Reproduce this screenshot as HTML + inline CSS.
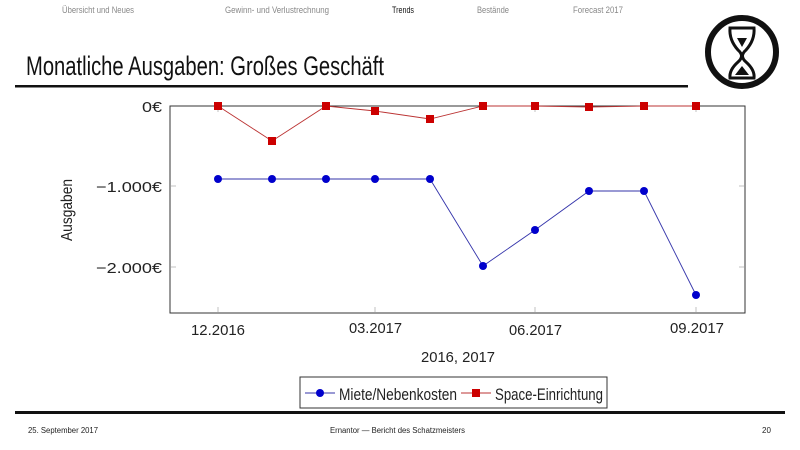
<!DOCTYPE html>
<html><head><meta charset="utf-8"><style>
body{margin:0;background:#fff;}
svg{display:block;font-family:"Liberation Sans",sans-serif;}
</style></head><body>
<svg width="800" height="450" viewBox="0 0 800 450">
<g font-size="9" fill="#888">
<text x="62" y="13" textLength="72" lengthAdjust="spacingAndGlyphs">Übersicht und Neues</text>
<text x="225" y="13" textLength="104" lengthAdjust="spacingAndGlyphs">Gewinn- und Verlustrechnung</text>
<text x="392" y="13" fill="#111" textLength="22" lengthAdjust="spacingAndGlyphs">Trends</text>
<text x="477" y="13" textLength="32" lengthAdjust="spacingAndGlyphs">Bestände</text>
<text x="573" y="13" textLength="50" lengthAdjust="spacingAndGlyphs">Forecast 2017</text>
</g>
<text x="26" y="75" font-size="27" fill="#111" textLength="358" lengthAdjust="spacingAndGlyphs">Monatliche Ausgaben: Großes Geschäft</text>
<rect x="15" y="85" width="673" height="2.5" fill="#111"/>
<circle cx="742" cy="52" r="34" fill="none" stroke="#111" stroke-width="6"/>
<path d="M730 28 H754 Q755 40 746 50 Q739 56 746 62 Q755 70 754 78 H730 Q729 70 738 62 Q745 56 738 50 Q729 40 730 28 Z" fill="none" stroke="#111" stroke-width="3"/>
<path d="M737 38 L747 38 L742 47 Z M735 75 L749 75 L742 66 Z" fill="#111"/>
<!-- plot -->
<rect x="170" y="106" width="575" height="207" fill="none" stroke="#333" stroke-width="1"/>
<g stroke="#999" stroke-width="0.6">
<line x1="218" y1="313" x2="218" y2="307"/><line x1="375" y1="313" x2="375" y2="307"/><line x1="535" y1="313" x2="535" y2="307"/><line x1="696" y1="313" x2="696" y2="307"/>
<line x1="218" y1="106" x2="218" y2="112"/><line x1="375" y1="106" x2="375" y2="112"/><line x1="535" y1="106" x2="535" y2="112"/><line x1="696" y1="106" x2="696" y2="112"/>
<line x1="170" y1="186" x2="176" y2="186"/><line x1="170" y1="267" x2="176" y2="267"/>
<line x1="745" y1="186" x2="739" y2="186"/><line x1="745" y1="267" x2="739" y2="267"/>
</g>
<g font-size="15" fill="#222" text-anchor="end">
<text x="162" y="112" textLength="20" lengthAdjust="spacingAndGlyphs">0€</text>
<text x="162" y="192" textLength="66" lengthAdjust="spacingAndGlyphs">−1.000€</text>
<text x="162" y="273" textLength="66" lengthAdjust="spacingAndGlyphs">−2.000€</text>
</g>
<g font-size="15" fill="#222">
<text x="191" y="335" textLength="54" lengthAdjust="spacingAndGlyphs">12.2016</text>
<text x="349" y="333" textLength="53" lengthAdjust="spacingAndGlyphs">03.2017</text>
<text x="509" y="335" textLength="53" lengthAdjust="spacingAndGlyphs">06.2017</text>
<text x="670" y="333" textLength="54" lengthAdjust="spacingAndGlyphs">09.2017</text>
<text x="421" y="362" textLength="74" lengthAdjust="spacingAndGlyphs">2016, 2017</text>
</g>
<text transform="translate(72,210) rotate(-90)" font-size="16" fill="#222" text-anchor="middle" textLength="62" lengthAdjust="spacingAndGlyphs">Ausgaben</text>
<polyline fill="none" stroke="#b33" stroke-width="0.9" points="218,106 272,141 326,106 375,111 430,119 483,106 535,106 589,107 644,106 696,106"/>
<g fill="#c00">
<rect x="214" y="102" width="8" height="8"/><rect x="268" y="137" width="8" height="8"/><rect x="322" y="102" width="8" height="8"/><rect x="371" y="107" width="8" height="8"/><rect x="426" y="115" width="8" height="8"/><rect x="479" y="102" width="8" height="8"/><rect x="531" y="102" width="8" height="8"/><rect x="585" y="103" width="8" height="8"/><rect x="640" y="102" width="8" height="8"/><rect x="692" y="102" width="8" height="8"/>
</g>
<polyline fill="none" stroke="#33a" stroke-width="0.9" points="218,179 272,179 326,179 375,179 430,179 483,266 535,230 589,191 644,191 696,295"/>
<g fill="#0000cc">
<circle cx="218" cy="179" r="4"/><circle cx="272" cy="179" r="4"/><circle cx="326" cy="179" r="4"/><circle cx="375" cy="179" r="4"/><circle cx="430" cy="179" r="4"/><circle cx="483" cy="266" r="4"/><circle cx="535" cy="230" r="4"/><circle cx="589" cy="191" r="4"/><circle cx="644" cy="191" r="4"/><circle cx="696" cy="295" r="4"/>
</g>
<!-- legend -->
<rect x="300" y="377" width="307" height="31" fill="#fff" stroke="#333" stroke-width="1"/>
<line x1="305" y1="393" x2="335" y2="393" stroke="#33a"/><circle cx="320" cy="393" r="4" fill="#0000cc"/>
<text x="339" y="400" font-size="17" fill="#222" textLength="118" lengthAdjust="spacingAndGlyphs">Miete/Nebenkosten</text>
<line x1="461" y1="393" x2="491" y2="393" stroke="#b33"/><rect x="472" y="389" width="8" height="8" fill="#c00"/>
<text x="495" y="400" font-size="17" fill="#222" textLength="108" lengthAdjust="spacingAndGlyphs">Space-Einrichtung</text>
<rect x="15" y="411" width="770" height="3" fill="#111"/>
<g font-size="8" fill="#222">
<text x="28" y="433" textLength="70" lengthAdjust="spacingAndGlyphs">25. September 2017</text>
<text x="330" y="433" textLength="135" lengthAdjust="spacingAndGlyphs">Ernantor — Bericht des Schatzmeisters</text>
<text x="762" y="433">20</text>
</g>
</svg>
</body></html>
